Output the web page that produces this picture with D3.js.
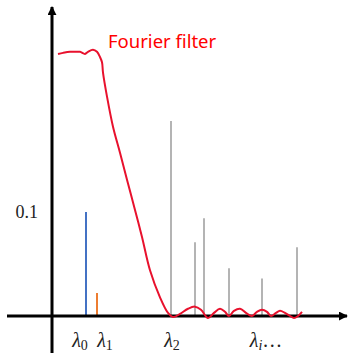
<!DOCTYPE html>
<html>
<head>
<meta charset="utf-8">
<script src="https://cdn.jsdelivr.net/npm/d3@7"></script>
<style>
body { margin: 0; background: #fff; }
</style>
</head>
<body>
<script>
// filter curve, x in arbitrary wavelength units, y in amplitude
var filterX = [0.6, 1.1, 1.8, 2.3, 2.8, 3.3, 3.6, 4.1, 4.5, 4.8, 5.0, 5.1, 5.5, 6.1, 6.8, 7.5, 8.3, 9.0, 9.8, 10.8, 11.6, 12.1, 12.8, 13.6, 14.3, 14.9, 15.6, 16.2, 16.8, 17.3, 17.7, 18.2, 18.8, 19.4, 20.0, 20.5, 21.0, 21.5, 21.9, 22.4, 22.8, 23.3, 23.8, 24.2, 24.6, 25.0];
var filterY = [0.252, 0.253, 0.254, 0.254, 0.254, 0.252, 0.254, 0.256, 0.254, 0.249, 0.244, 0.234, 0.211, 0.182, 0.157, 0.131, 0.102, 0.076, 0.044, 0.018, 0.003, -0.001, 0.002, 0.007, 0.009, 0.006, -0.002, 0.003, 0.007, 0.004, 0.000, 0.005, 0.007, 0.003, 0.000, 0.004, 0.006, 0.004, 0.000, 0.003, 0.005, 0.003, 0.000, -0.002, 0.000, 0.004];

// spectral lines
var lineX = [3.4, 4.5, 11.9, 14.3, 15.2, 17.7, 21.0, 24.5];
var lineY = [0.1, 0.022, 0.1875, 0.071, 0.094, 0.046, 0.036, 0.066];
var lineColor = ["#4472c4", "#ed7d31", "#b4b4b4", "#b4b4b4", "#b4b4b4", "#b4b4b4", "#b4b4b4", "#b4b4b4"];

var yTicks = [0.1];
var lambdaPos = [2.8, 5.3, 12.0, 21.4];
var lambdaSub = ["0", "1", "2", "i"];
var lambdaTail = ["", "", "", "\u2026"];

var width = 348, height = 353;

var svg = d3.select("body").append("svg")
    .attr("width", width)
    .attr("height", height);

var x = d3.scaleLinear().domain([0, 29.5]).range([52, 347]);
var y = d3.scaleLinear().domain([0, 0.1]).range([316, 212]);

// arrowhead
svg.append("defs").append("marker")
    .attr("id", "arrow")
    .attr("viewBox", "0 0 10 10")
    .attr("refX", 9).attr("refY", 5)
    .attr("markerWidth", 3).attr("markerHeight", 3)
    .attr("orient", "auto")
  .append("path")
    .attr("d", "M0,0L10,5L0,10z")
    .attr("fill", "#000");

// spectral lines
svg.selectAll("line.spec")
    .data(lineX)
    .enter()
    .append("line")
    .attr("class", "spec")
    .attr("x1", function(d){return x(d)})
    .attr("x2", function(d){return x(d)})
    .attr("y1", y(0))
    .attr("y2", function(d, i){return y(lineY[i])})
    .style("stroke", function(d, i){return lineColor[i]})
    .style("stroke-width", 2);

// axes
svg.append("line")
    .attr("x1", 7).attr("x2", x.range()[1])
    .attr("y1", y(0)).attr("y2", y(0))
    .style("stroke", "#000").style("stroke-width", 3)
    .attr("marker-end", "url(#arrow)");
svg.append("line")
    .attr("x1", x(0)).attr("x2", x(0))
    .attr("y1", height).attr("y2", 7)
    .style("stroke", "#000").style("stroke-width", 3)
    .attr("marker-end", "url(#arrow)");

var yAxis = svg.append("g")
    .attr("transform", "translate(" + x(0) + ",0)")
    .call(d3.axisLeft(y).tickValues(yTicks).tickSize(0).tickPadding(14).tickFormat(d3.format(".1f")));
yAxis.select(".domain").remove();
yAxis.selectAll("text")
    .attr("font-family", "Liberation Serif")
    .attr("font-size", "18px")
    .attr("fill", "#222");

// filter curve
var pts = filterX.map(function(d, i){return [d, filterY[i]]});
svg.append("path")
    .datum(pts)
    .attr("d", d3.line().x(function(d){return x(d[0])}).y(function(d){return y(d[1])}).curve(d3.curveCatmullRom))
    .style("fill", "none")
    .style("stroke", "#e8112d")
    .style("stroke-width", 2);

svg.append("text")
    .attr("x", 108).attr("y", 48)
    .attr("font-family", "Noto Sans")
    .attr("font-size", "18.5px")
    .attr("fill", "#ff0000")
    .text("Fourier filter");

// lambda labels
var lab = svg.selectAll("text.lam")
    .data(lambdaPos)
    .enter()
    .append("text")
    .attr("class", "lam")
    .attr("x", function(d){return x(d)})
    .attr("y", 347)
    .attr("text-anchor", "middle")
    .attr("font-family", "Liberation Serif")
    .attr("font-size", "20px")
    .attr("fill", "#222");
lab.append("tspan").attr("font-style", "italic").text("\u03bb");
lab.append("tspan")
    .attr("font-size", "14px")
    .attr("dy", 3)
    .attr("font-style", function(d, i){return lambdaSub[i] == "i" ? "italic" : "normal"})
    .text(function(d, i){return lambdaSub[i]});
lab.append("tspan")
    .attr("dy", -3)
    .text(function(d, i){return lambdaTail[i]});
</script>
</body>
</html>
